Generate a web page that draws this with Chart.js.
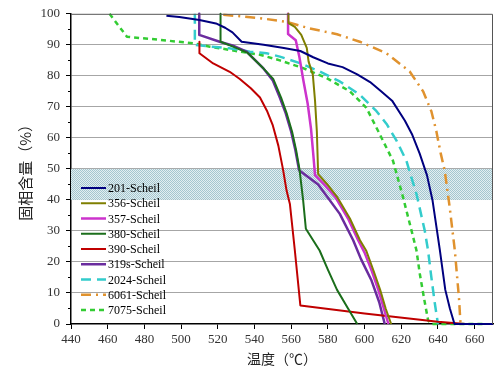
<!DOCTYPE html>
<html>
<head>
<meta charset="utf-8">
<script src="https://cdn.jsdelivr.net/npm/chart.js@4.4.0/dist/chart.umd.min.js"></script>
<style>
    html, body { margin: 0; padding: 0; background: #fff; }
</style>
</head>
<body>
<canvas id="chart" width="500" height="377"></canvas>
<script>
// Axis ticks
const xTicks = [440, 460, 480, 500, 520, 540, 560, 580, 600, 620, 640, 660];
const yTicks = [0, 10, 20, 30, 40, 50, 60, 70, 80, 90, 100];
const bandRange = [40, 50];

// Series labels
const labels = ['201-Scheil', '356-Scheil', '357-Scheil', '380-Scheil', '390-Scheil',
    '319s-Scheil', '2024-Scheil', '6061-Scheil', '7075-Scheil'];

// Temperature (°C) / solid fraction (%)
const t201 = [492, 499, 510, 519, 524, 528, 533, 545, 556, 565, 572, 580, 588, 596, 603, 609, 615, 622, 626, 630, 634, 637, 641, 644, 646.5, 649, 670];
const f201 = [99.4, 99, 98, 96.9, 95.5, 94, 91, 90, 89, 88, 86, 84, 82.8, 80.5, 78, 75, 72, 65.5, 61, 55, 48, 40, 24, 11, 5, 0, 0];

const t356 = [558.5, 558.5, 562, 565.5, 568.5, 569.5, 571.8, 573, 574, 574.7, 580, 585, 592, 597.5, 601, 605, 608.5, 611.5, 614.5];
const f356 = [100, 97, 95.8, 93.2, 89, 84.6, 80.4, 72, 62, 48.3, 44.8, 41, 34, 27, 23.5, 17, 11, 5, 0];

const t357 = [558.3, 558.3, 562.5, 564.5, 566.5, 569, 570.8, 572, 573, 578.5, 584, 591, 596.5, 600, 604, 607.5, 610.5, 613];
const f357 = [100, 93.5, 91.5, 86, 79, 71, 63, 55, 48, 44.7, 41, 34, 27, 23, 17, 11, 5, 0];

const t380 = [521.5, 521.5, 528, 536, 544.7, 550.2, 554.5, 557.5, 560.5, 562.7, 564.5, 566.5, 568, 575.5, 580, 585, 591, 596];
const f380 = [100, 91, 89.5, 87.5, 82.5, 79, 73, 68, 62, 56, 50, 40, 30.7, 23.7, 17.5, 11, 5, 0];

const t390 = [510, 510, 517.5, 526.5, 532, 538, 543, 547, 550, 553, 555.5, 557.5, 559.3, 562, 565, 600, 640, 655];
const f390 = [91, 87.3, 84, 81.3, 79, 76, 73, 68.5, 64, 57.5, 50, 43, 38.7, 23.7, 6, 3.4, 0.7, 0];

const t319 = [509.9, 509.9, 521, 528, 535.7, 544.7, 550, 553.8, 557, 560, 562.3, 564.3, 574.7, 586.5, 593.8, 598, 603.8, 608, 611];
const f319 = [100, 93.2, 91, 89.8, 87.8, 82.5, 78.5, 73, 68, 62, 56, 49.6, 45, 35.5, 27, 21, 14, 7, 0];

const t2024 = [507.5, 507.5, 515, 525, 537.5, 546.6, 553.8, 564.7, 575.6, 586.5, 597.4, 606.5, 612, 617.5, 622.8, 628.3, 632.8, 634.6, 636.2, 638.2, 640];
const f2024 = [100, 90, 89.5, 89, 87.8, 87.3, 86.2, 84.1, 81.4, 78.2, 73.9, 68.6, 64.5, 59, 52.6, 41.9, 30.1, 23.7, 16, 7, 0];

const t6061 = [523, 543, 557.5, 570, 585, 597.4, 611.9, 624.6, 631.9, 636.4, 639.1, 641.5, 643.7, 646.4, 649.2, 650.3, 651.5, 652.3];
const f6061 = [99.7, 98.6, 97.4, 95.3, 93.4, 91, 87.3, 81.4, 75, 68.6, 62.2, 55, 49.4, 37.6, 23.7, 16.2, 8, 0];

const t7075 = [461, 470.5, 488.5, 506.6, 515.7, 521, 532, 543, 553.8, 566.5, 579.3, 592, 601, 607.4, 615.5, 621, 625.6, 628.3, 630.1, 632.5, 634.6, 636, 665];
const f7075 = [100, 92.6, 91.6, 90.5, 89.4, 88.9, 87.8, 86.8, 85, 82.5, 79.3, 75, 69.7, 62.2, 52.6, 40.8, 30.1, 23.7, 16.2, 8, 1.3, 0, 0];

const temps = [t201, t356, t357, t380, t390, t319, t2024, t6061, t7075];
const fracs = [f201, f356, f357, f380, f390, f319, f2024, f6061, f7075];

// Line styles
const colors = ['#00007F', '#7F7F00', '#CC33CC', '#1B6E1B', '#C00000', '#6A2C9E', '#33CCCC', '#E0922E', '#33CC33'];
const widths = [2, 2, 2.5, 2, 2, 2.5, 2.5, 2.5, 2.5];
const dashes = [[], [], [], [], [], [], [10, 6], [10, 5, 2, 5], [5, 4]];

function toPoints(ts, fs) {
    return ts.map((t, i) => ({ x: t, y: fs[i] }));
}

const datasets = labels.map((label, i) => ({
    label: label,
    data: toPoints(temps[i], fracs[i]),
    showLine: true,
    borderColor: colors[i],
    backgroundColor: colors[i],
    borderWidth: widths[i],
    borderDash: dashes[i],
    borderJoinStyle: 'round',
    pointRadius: 0,
    tension: 0,
    fill: false,
    clip: 3
}));

// dotted blue band between 40 % and 50 %
function makeBandPattern(ctx) {
    const c = document.createElement('canvas');
    c.width = 2;
    c.height = 2;
    const p = c.getContext('2d');
    p.fillStyle = '#E2EEF1';
    p.fillRect(0, 0, 2, 2);
    p.fillStyle = '#A4C6CF';
    p.fillRect(0, 0, 1, 1);
    p.fillRect(1, 1, 1, 1);
    return ctx.createPattern(c, 'repeat');
}

const bandPlugin = {
    id: 'band',
    beforeDatasetsDraw(chart) {
        const { ctx, chartArea, scales } = chart;
        const yTop = scales.y.getPixelForValue(bandRange[1]);
        const yBot = scales.y.getPixelForValue(bandRange[0]);
        ctx.save();
        ctx.fillStyle = makeBandPattern(ctx);
        ctx.fillRect(chartArea.left, yTop, chartArea.right - chartArea.left, yBot - yTop);
        ctx.restore();
    }
};

// frame, minor y ticks and the legend inside the plot
const framePlugin = {
    id: 'frame',
    afterDraw(chart) {
        const { ctx, chartArea, scales } = chart;
        ctx.save();
        ctx.strokeStyle = '#555';
        ctx.lineWidth = 1;
        ctx.beginPath();
        ctx.moveTo(chartArea.left, chartArea.top + 0.5);
        ctx.lineTo(chartArea.right - 0.5, chartArea.top + 0.5);
        ctx.lineTo(chartArea.right - 0.5, chartArea.bottom);
        ctx.stroke();

        ctx.strokeStyle = '#000';
        for (let v = 5; v < 100; v += 10) {
            const y = Math.round(scales.y.getPixelForValue(v)) + 0.5;
            ctx.beginPath();
            ctx.moveTo(chartArea.left - 3, y);
            ctx.lineTo(chartArea.left, y);
            ctx.stroke();
        }

        ctx.font = '12px "Liberation Serif", "Times New Roman", serif';
        ctx.textBaseline = 'middle';
        ctx.fillStyle = '#000';
        chart.data.datasets.forEach((ds, i) => {
            const y = 188 + i * 15.25;
            ctx.strokeStyle = ds.borderColor;
            ctx.lineWidth = ds.borderWidth;
            ctx.setLineDash(ds.borderDash);
            ctx.beginPath();
            ctx.moveTo(81, y);
            ctx.lineTo(106, y);
            ctx.stroke();
            ctx.setLineDash([]);
            ctx.fillText(ds.label, 108, y + 1);
        });
        ctx.restore();
    }
};

const tickFont = { family: '"Liberation Serif", "Times New Roman", serif', size: 13 };
const titleFont = { family: '"Noto Sans CJK SC", sans-serif', size: 14 };

new Chart(document.getElementById('chart'), {
    type: 'scatter',
    data: { datasets: datasets },
    options: {
        responsive: false,
        animation: false,
        layout: { padding: { top: 12, right: 7, left: 0, bottom: 0 } },
        plugins: {
            legend: { display: false },
            tooltip: { enabled: false }
        },
        scales: {
            x: {
                type: 'linear',
                min: 440,
                max: 670,
                afterBuildTicks: s => { s.ticks = xTicks.map(v => ({ value: v })); },
                afterFit: s => { s.height = 53; },
                border: { color: '#000', width: 1.5 },
                grid: { drawOnChartArea: false, drawTicks: true, tickLength: 5, tickColor: '#000' },
                ticks: { font: tickFont, color: '#333', padding: 3, maxRotation: 0 },
                title: { display: true, text: '温度（℃）', font: titleFont, color: '#222', padding: { top: 0, bottom: 10 } }
            },
            y: {
                min: 0,
                max: 100,
                afterBuildTicks: s => { s.ticks = yTicks.map(v => ({ value: v })); },
                afterFit: s => { s.width = 71; },
                border: { color: '#000', width: 1.5 },
                grid: {
                    color: c => (c.tick && c.tick.value > 0 && c.tick.value < 100) ? '#A6A6A6' : 'rgba(0,0,0,0)',
                    lineWidth: 1,
                    tickLength: 5,
                    tickColor: '#000'
                },
                ticks: { font: tickFont, color: '#333', padding: 6 },
                title: { display: true, text: '固相含量（%）', font: { family: titleFont.family, size: 15 }, color: '#222', padding: { top: 16, bottom: 0 } }
            }
        }
    },
    plugins: [bandPlugin, framePlugin]
});
</script>
</body>
</html>
